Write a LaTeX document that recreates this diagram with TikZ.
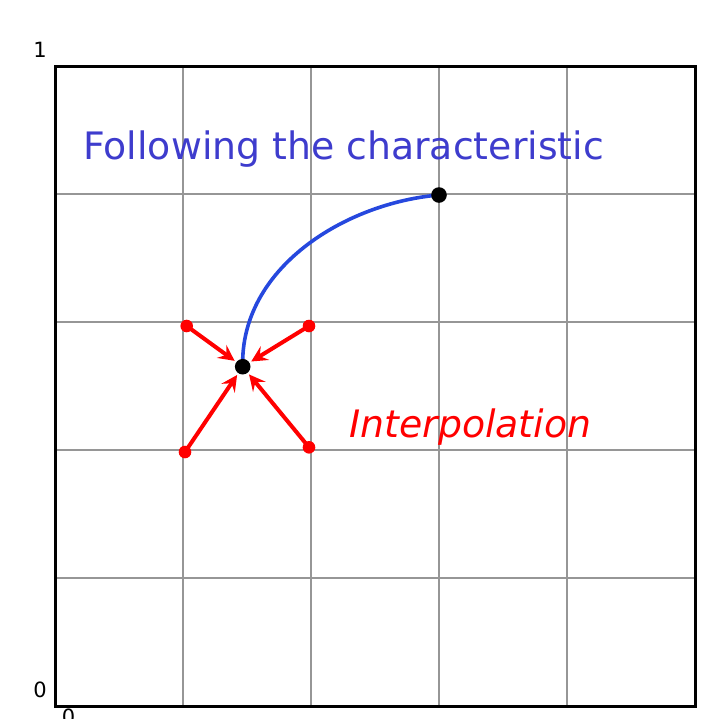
\documentclass[tikz,border=0pt]{standalone}
\usepackage{fontspec}
\setmainfont{DejaVu Sans}
\usetikzlibrary{arrows.meta}
\definecolor{charblue}{RGB}{38,72,222}
\definecolor{labelblue}{RGB}{62,60,205}
\definecolor{gridgray}{RGB}{150,150,150}

\begin{document}
\begin{tikzpicture}[x=0.5pt, y=-0.5pt,
  gridline/.style={draw=gridgray, line width=0.8pt},
  boxframe/.style={draw=black, line width=1.5pt},
  charline/.style={draw=charblue, line width=1.8pt},
  interarr/.style={draw=red, line width=2pt,
                   -{Stealth[length=8pt, width=8pt, inset=3pt]}, shorten >=5pt},
  reddot/.style={circle, fill=red, inner sep=0pt, minimum size=6.3pt},
  blackdot/.style={circle, fill=black, inner sep=0pt, minimum size=7.8pt},
  ticklbl/.style={font=\fontsize{10.5}{12}\selectfont, inner sep=0pt},
  biglbl/.style={font=\fontsize{18.9}{22}\selectfont, inner sep=0pt, anchor=base west}
]
\useasboundingbox (0,0) rectangle (701,719);

% grid and frame
\foreach \gx in {183,311,439,567}
  \draw[gridline] (\gx,66) -- (\gx,706);
\foreach \gy in {194,322,450,578}
  \draw[gridline] (55,\gy) -- (695,\gy);
\draw[boxframe] (55,66) rectangle (695,706);

\node[ticklbl] (yone) at (40,50) {1};
\node[ticklbl] (yzero) at (40,690) {0};
\node[ticklbl, anchor=north] (xzero) at (68.5,709) {0};

% points
\coordinate (foot) at (242.7,366.7);
\coordinate (head) at (439,195);
\coordinate (nw) at (186.7,326);
\coordinate (ne) at (309,326);
\coordinate (sw) at (185,452);
\coordinate (se) at (309,447.3);

% characteristic
\draw[charline] (foot) .. controls (240,268) and (345,203) .. (head);

% interpolation
\foreach \p in {nw,ne,sw,se}
  \draw[interarr] (\p) -- (foot);
\foreach \p in {nw,ne,sw,se}
  \node[reddot] (\p dot) at (\p) {};

\node[blackdot] (footdot) at (foot) {};
\node[blackdot] (headdot) at (head) {};

\node[biglbl, text=labelblue] (follow) at (83,159.5) {Following the characteristic};
\node[biglbl, text=red] (interp) at (349,437.5) {\itshape Interpolation};
\end{tikzpicture}
\end{document}
